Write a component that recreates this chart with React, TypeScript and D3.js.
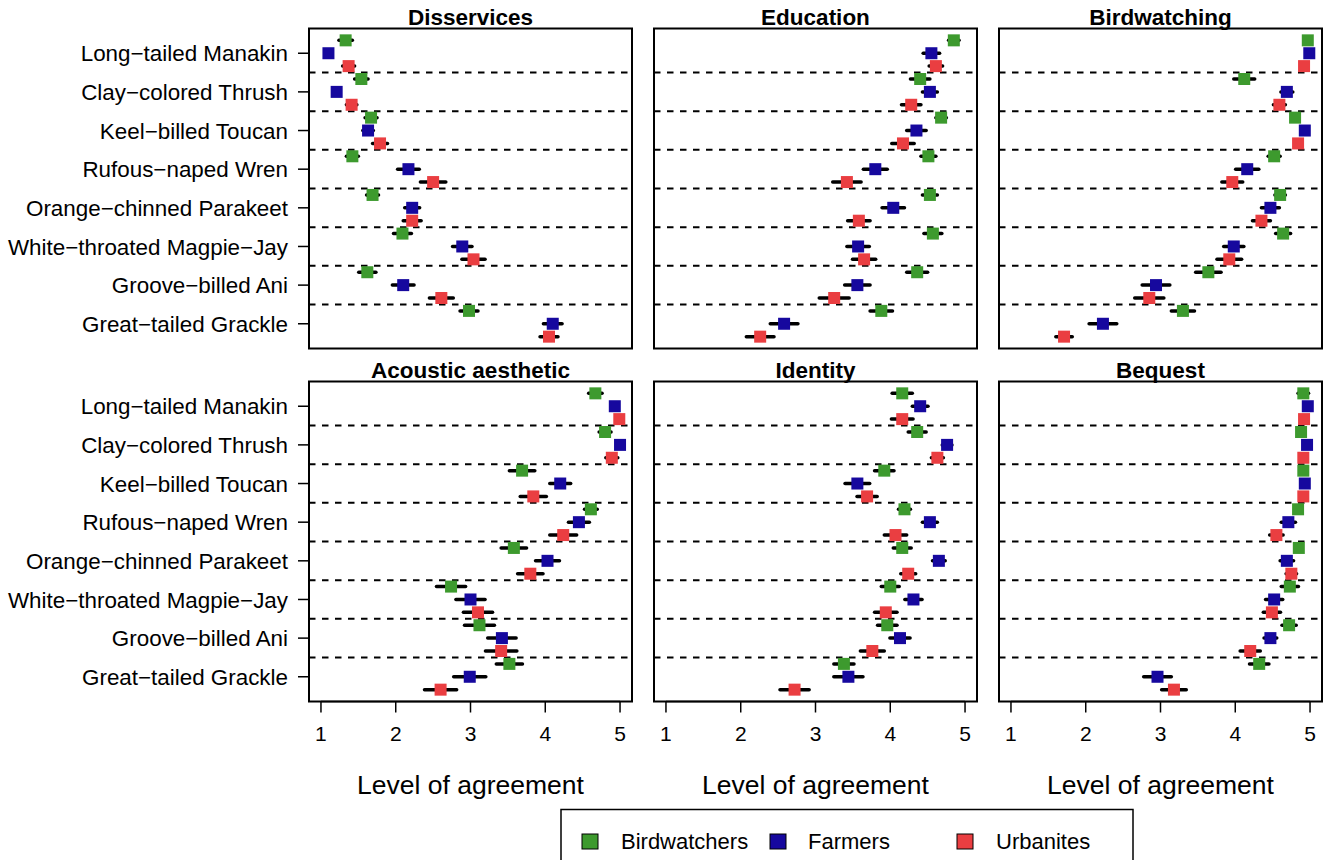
import React from "react";
import * as d3 from "d3";

const species = [
  "Long−tailed Manakin",
  "Clay−colored Thrush",
  "Keel−billed Toucan",
  "Rufous−naped Wren",
  "Orange−chinned Parakeet",
  "White−throated Magpie−Jay",
  "Groove−billed Ani",
  "Great−tailed Grackle",
];
const groups = ["Birdwatchers", "Farmers", "Urbanites"];
const groupColors = ["#3d9a2e", "#16089e", "#ea3e41"];
const panelTitles = ["Disservices", "Education", "Birdwatching", "Acoustic aesthetic", "Identity", "Bequest"];
const xTicks = [1, 2, 3, 4, 5];

// mean per species: [Birdwatchers, Farmers, Urbanites]
const disservicesMean = [
  [1.33, 1.10, 1.37], [1.54, 1.21, 1.41], [1.67, 1.63, 1.79], [1.42, 2.17, 2.50],
  [1.69, 2.22, 2.22], [2.09, 2.89, 3.04], [1.62, 2.10, 2.61], [2.98, 4.10, 4.05],
];
const disservicesErr = [
  [0.09, 0.03, 0.08], [0.09, 0.03, 0.07], [0.08, 0.07, 0.10], [0.08, 0.145, 0.17],
  [0.08, 0.10, 0.12], [0.12, 0.13, 0.155], [0.115, 0.145, 0.16], [0.12, 0.125, 0.12],
];
const educationMean = [
  [4.85, 4.55, 4.61], [4.40, 4.53, 4.28], [4.68, 4.35, 4.17], [4.51, 3.80, 3.42],
  [4.53, 4.04, 3.58], [4.57, 3.57, 3.65], [4.36, 3.56, 3.25], [3.88, 2.58, 2.26],
];
const educationErr = [
  [0.07, 0.11, 0.09], [0.13, 0.10, 0.13], [0.07, 0.13, 0.15], [0.10, 0.16, 0.19],
  [0.10, 0.15, 0.15], [0.12, 0.15, 0.155], [0.14, 0.17, 0.20], [0.15, 0.185, 0.185],
];
const birdwatchingMean = [
  [4.97, 4.99, 4.92], [4.12, 4.69, 4.59], [4.80, 4.93, 4.84], [4.52, 4.16, 3.96],
  [4.60, 4.47, 4.35], [4.64, 3.98, 3.92], [3.64, 2.94, 2.85], [3.30, 2.23, 1.71],
];
const birdwatchingErr = [
  [0.03, 0.03, 0.03], [0.14, 0.08, 0.08], [0.04, 0.03, 0.04], [0.08, 0.155, 0.14],
  [0.07, 0.12, 0.12], [0.10, 0.135, 0.165], [0.17, 0.185, 0.195], [0.155, 0.185, 0.11],
];
const acousticMean = [
  [4.67, 4.93, 4.99], [4.80, 5.00, 4.89], [3.69, 4.20, 3.84], [4.61, 4.45, 4.24],
  [3.58, 4.03, 3.80], [2.74, 3.00, 3.10], [3.12, 3.42, 3.41], [3.52, 2.99, 2.60],
];
const acousticErr = [
  [0.09, 0.03, 0.03], [0.08, 0.02, 0.08], [0.17, 0.14, 0.175], [0.085, 0.14, 0.18],
  [0.17, 0.16, 0.17], [0.195, 0.195, 0.195], [0.20, 0.19, 0.21], [0.175, 0.215, 0.215],
];
const identityMean = [
  [4.16, 4.40, 4.16], [4.36, 4.76, 4.63], [3.92, 3.56, 3.69], [4.19, 4.53, 4.07],
  [4.16, 4.65, 4.24], [4.00, 4.31, 3.94], [3.96, 4.13, 3.76], [3.38, 3.44, 2.72],
];
const identityErr = [
  [0.135, 0.105, 0.145], [0.12, 0.065, 0.08], [0.13, 0.165, 0.135], [0.08, 0.10, 0.15],
  [0.12, 0.085, 0.10], [0.12, 0.115, 0.15], [0.13, 0.135, 0.16], [0.135, 0.195, 0.195],
];
const bequestMean = [
  [4.91, 4.97, 4.92], [4.88, 4.96, 4.91], [4.91, 4.93, 4.91], [4.84, 4.71, 4.55],
  [4.85, 4.69, 4.75], [4.73, 4.52, 4.49], [4.72, 4.47, 4.20], [4.32, 2.96, 3.18],
];
const bequestErr = [
  [0.07, 0.03, 0.03], [0.03, 0.03, 0.03], [0.03, 0.03, 0.03], [0.03, 0.095, 0.09],
  [0.04, 0.09, 0.07], [0.115, 0.115, 0.115], [0.095, 0.085, 0.135], [0.13, 0.185, 0.165],
];

const panelMeans = [disservicesMean, educationMean, birdwatchingMean, acousticMean, identityMean, bequestMean];
const panelErrs = [disservicesErr, educationErr, birdwatchingErr, acousticErr, identityErr, bequestErr];

const FONT = "'Liberation Sans', Arimo, Arial, Helvetica, sans-serif";
const colX = [309, 654, 999];
const rowY = [28.5, 381.5];
const PW = 323;
const PH = 320;

function Panel({ idx }: { idx: number }) {
  const col = idx % 3;
  const row = Math.floor(idx / 3);
  const x0 = colX[col];
  const y0 = rowY[row];
  const x = d3.scaleLinear().domain([0.84, 5.16]).range([x0, x0 + PW]);
  const n = species.length * groups.length;
  const y = d3.scaleLinear().domain([1 - 0.92, n + 0.92]).range([y0, y0 + PH]);
  const means = panelMeans[idx];
  const errs = panelErrs[idx];
  const pts: { cx: number; cy: number; lo: number; hi: number; c: string }[] = [];
  species.forEach((_, si) => {
    groups.forEach((_, gi) => {
      const pos = si * 3 + gi + 1;
      const m = means[si][gi];
      const e = errs[si][gi];
      pts.push({ cx: x(m), cy: y(pos), lo: x(m - e), hi: x(m + e), c: groupColors[gi] });
    });
  });
  const sq = 12;
  return (
    <g>
      {species.slice(0, -1).map((_, si) => (
        <line key={"d" + si} x1={x0} x2={x0 + PW} y1={y(si * 3 + 3.5)} y2={y(si * 3 + 3.5)}
          stroke="#000" strokeWidth={2} strokeDasharray="6.5,6.5" />
      ))}
      {pts.map((p, i) => (
        <line key={"e" + i} x1={p.lo} x2={p.hi} y1={p.cy} y2={p.cy} stroke="#000" strokeWidth={3.5} strokeLinecap="round" />
      ))}
      {pts.map((p, i) => (
        <rect key={"p" + i} x={p.cx - sq / 2} y={p.cy - sq / 2} width={sq} height={sq} fill={p.c} />
      ))}
      <rect x={x0} y={y0} width={PW} height={PH} fill="none" stroke="#000" strokeWidth={2} />
      <text x={x0 + PW / 2} y={y0 - 4} textAnchor="middle" fontFamily={FONT} fontWeight="bold" fontSize={22.5}>
        {panelTitles[idx]}
      </text>
      {col === 0 &&
        species.map((s, si) => (
          <g key={"yl" + si}>
            <line x1={x0 - 11} x2={x0} y1={y(si * 3 + 2)} y2={y(si * 3 + 2)} stroke="#000" strokeWidth={1.5} />
            <text x={x0 - 21} y={y(si * 3 + 2)} dy="0.36em" textAnchor="end" fontFamily={FONT} fontSize={22.4}>
              {s}
            </text>
          </g>
        ))}
      {row === 1 && (
        <g>
          <line x1={x(1)} x2={x(5)} y1={y0 + PH} y2={y0 + PH} stroke="#000" strokeWidth={1.5} />
          {xTicks.map((t) => (
            <g key={"xt" + t}>
              <line x1={x(t)} x2={x(t)} y1={y0 + PH} y2={y0 + PH + 11} stroke="#000" strokeWidth={1.5} />
              <text x={x(t)} y={y0 + PH + 39} textAnchor="middle" fontFamily={FONT} fontSize={21}>
                {t}
              </text>
            </g>
          ))}
          <text x={x0 + PW / 2} y={y0 + PH + 92} textAnchor="middle" fontFamily={FONT} fontSize={26.5}>
            Level of agreement
          </text>
        </g>
      )}
    </g>
  );
}

const legendX = [582, 770, 957];
const legendTextX = [621, 808, 996];

export default function App() {
  return (
    <svg width={1325} height={860} style={{ position: "absolute", left: 0, top: 0, background: "#fff" }}>
      <rect x={0} y={0} width={1325} height={860} fill="#fff" />
      {panelTitles.map((_, i) => (
        <Panel key={i} idx={i} />
      ))}
      <rect x={561} y={809.5} width={572} height={80} fill="none" stroke="#000" strokeWidth={1.5} />
      {groups.map((g, i) => (
        <g key={g}>
          <rect x={legendX[i]} y={834} width={16} height={15} fill={groupColors[i]} stroke="#000" strokeWidth={1} />
          <text x={legendTextX[i]} y={849} fontFamily={FONT} fontSize={22}>
            {g}
          </text>
        </g>
      ))}
    </svg>
  );
}
